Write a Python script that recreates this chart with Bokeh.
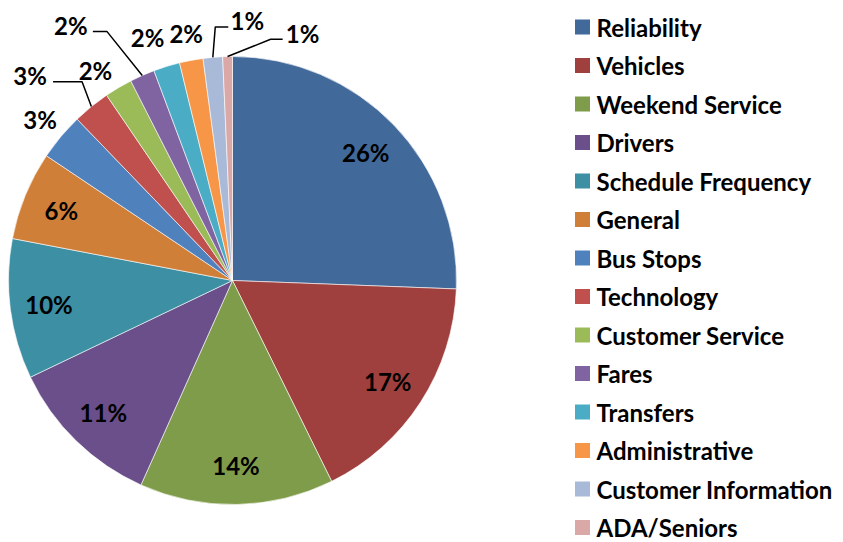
import math
from bokeh.plotting import figure
from bokeh.models import Range1d, ColumnDataSource
from bokeh.core.properties import value
from bokeh.embed import file_html
from bokeh.resources import INLINE

# ---- data ----
categories = ["Reliability", "Vehicles", "Weekend Service", "Drivers",
              "Schedule Frequency", "General", "Bus Stops", "Technology",
              "Customer Service", "Fares", "Transfers", "Administrative",
              "Customer Information", "ADA/Seniors"]
shares = [25.6, 17.1, 14.0, 11.2, 10.1, 6.4, 3.4, 2.7, 2.0, 1.8, 1.9, 1.7, 1.4, 0.7]
colors = ["#41699A", "#A0403E", "#7F9C4A", "#6A4F8A", "#3D8FA3", "#D07F38",
          "#4F81BD", "#C0504D", "#9BBB59", "#8064A2", "#4BACC6", "#F79646",
          "#A9B9D8", "#D9A8A7"]

# ---- layout (styling, not data) ----
W, H = 843, 542
CX, CY, R = 232, 262, 224
label_r = [185, 185, 185, 185, 185, 185, 251, 288, 251, 302, 257, 251, 260, 257]
label_shift = [0, 0, 0, 0, 0, 0, 0, -5.6, -2.5, -8.6, -2.2, 0, 8.3, 17.1]
leader = [None] * 6 + [None, ("left", 29, 6), None, ("left", 14, 5), None, None,
                       ("right", 13, 2), ("right", 12, 3)]
FONT = "Lato"
FS = "24px"

total = sum(shares)
starts, ends, mids = [], [], []
cum = 0.0
for v in shares:
    a0 = cum / total
    cum += v
    a1 = cum / total
    starts.append(math.pi / 2 - 2 * math.pi * a0)
    ends.append(math.pi / 2 - 2 * math.pi * a1)
    mids.append(360 * (a0 + a1) / 2)

pct = [f"{round(v / total * 100)}%" for v in shares]

p = figure(width=W, height=H, x_range=Range1d(0, W), y_range=Range1d(0, H),
           output_backend="svg", toolbar_location=None,
           x_axis_location=None, y_axis_location=None, min_border=0)
p.grid.visible = False
p.outline_line_color = None
p.background_fill_color = "white"

src = ColumnDataSource(dict(start=starts, end=ends, color=colors, cat=categories))
p.wedge(x=CX, y=CY, radius=R, start_angle="start", end_angle="end",
        direction="clock", fill_color="color", line_color="white",
        line_width=0.6, source=src)

# data labels
lx, ly = [], []
for i, m in enumerate(mids):
    th = math.radians(m + label_shift[i])
    lx.append(CX + label_r[i] * math.sin(th))
    ly.append(CY + label_r[i] * math.cos(th))
p.text(x=lx, y=ly, text=pct, text_align="center", text_baseline="middle",
       text_font=value(FONT), text_font_style="bold", text_font_size=FS,
       text_color="black")

# leader lines
for i, ld in enumerate(leader):
    if ld is None:
        continue
    side, hlen, gap = ld
    th = math.radians(mids[i])
    ex, ey = CX + R * math.sin(th), CY + R * math.cos(th)
    half = 17
    if side == "left":
        x0 = lx[i] + half + gap
        bx = x0 + hlen
    else:
        x0 = lx[i] - half - gap
        bx = x0 - hlen
    y0 = ly[i] - 6
    p.line(x=[x0, bx, ex], y=[y0, y0, ey], line_color="black", line_width=1.5)

# legend
row0, step = 26.5, 38.5
leg_y = [H - (row0 + i * step) for i in range(len(categories))]
p.scatter(x=[582] * len(categories), y=leg_y, marker="square", size=15,
          fill_color=colors, line_color=None)
p.text(x=[596] * len(categories), y=leg_y, text=categories, text_align="left",
       text_baseline="middle", text_font=value(FONT), text_font_style="bold",
       text_font_size=FS, text_color="black")

open("out.html", "w").write(file_html(p, INLINE))
